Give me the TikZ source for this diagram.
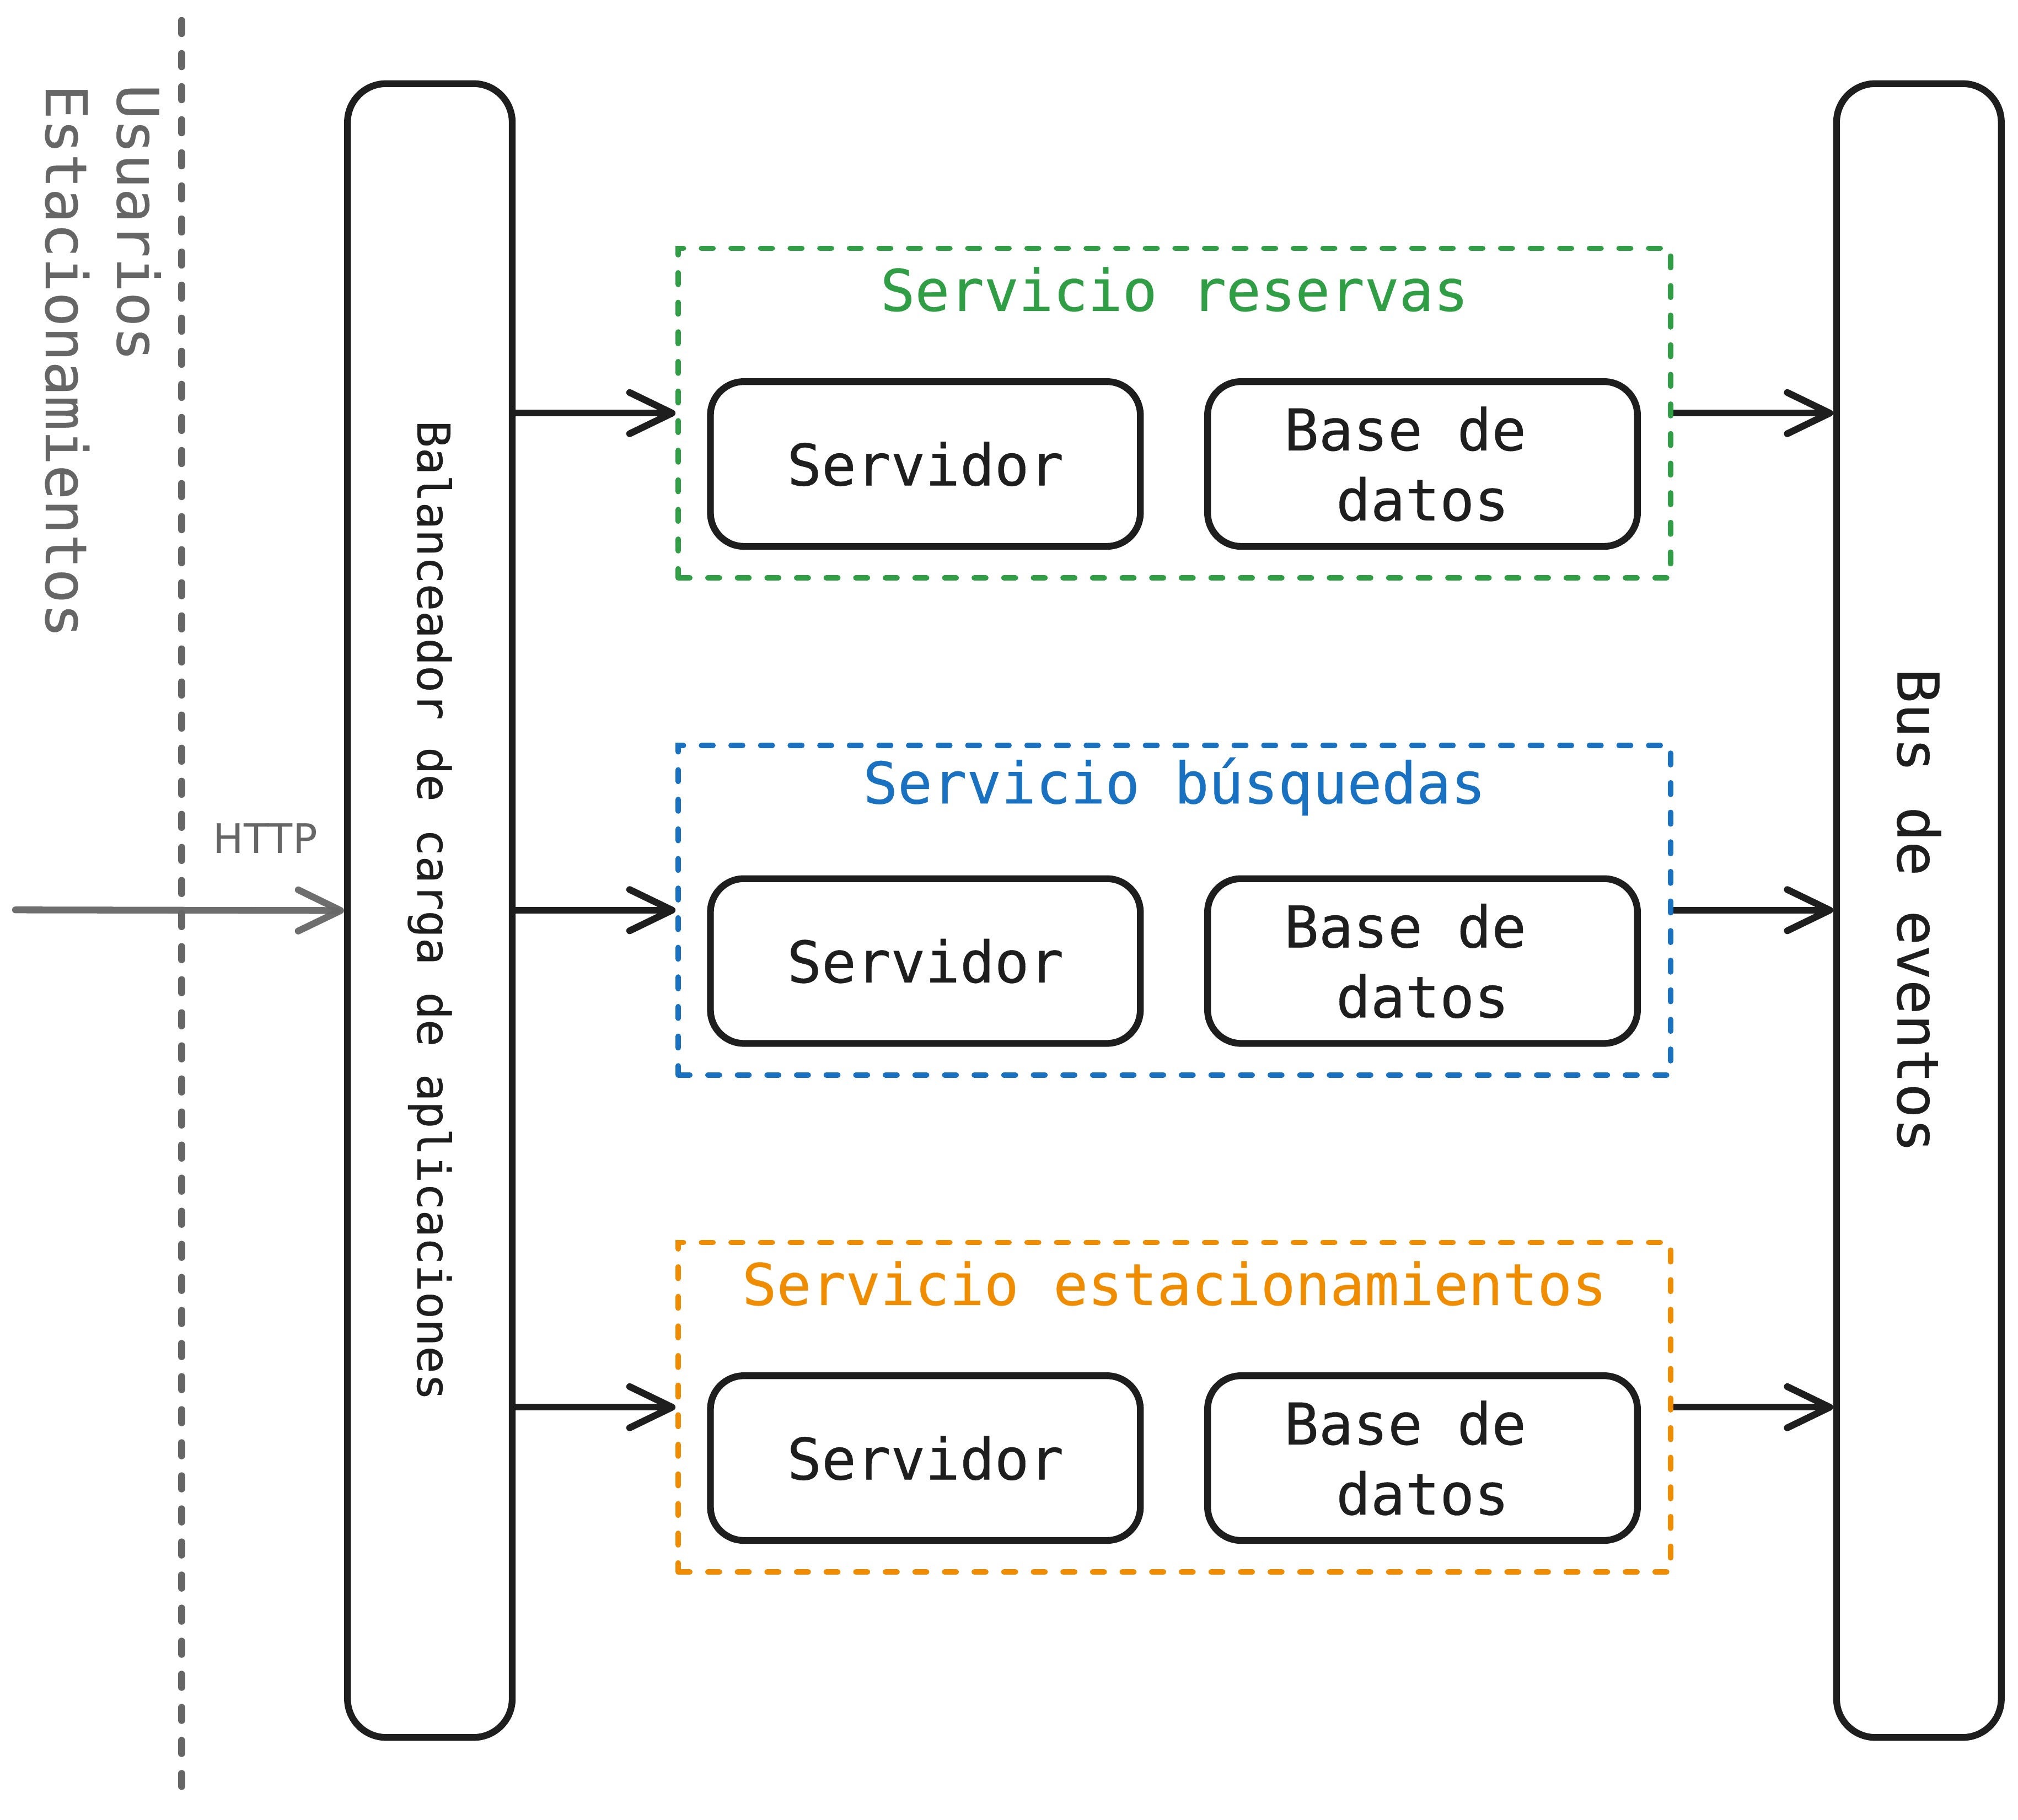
\documentclass[tikz,border=0pt]{standalone}
\usepackage{fontspec}
\setmainfont{DejaVu Sans Mono}[FakeBold=0.4]
\newfontfamily\httpfont{DejaVu Sans}
\usepackage{tikz}
\usetikzlibrary{arrows.meta,positioning,calc}
\definecolor{InkDark}{HTML}{1E1E1E}
\definecolor{InkGray}{HTML}{666666}
\definecolor{SvcGreen}{HTML}{2F9E44}
\definecolor{SvcBlue}{HTML}{1971C2}
\definecolor{SvcOrange}{HTML}{F08C00}
\tikzset{
  % Tall boxes (balancer, bus)
  TB/.style={rectangle,rounded corners=0.3cm,draw=InkDark,line width=1.5pt,
             minimum width=1.28cm,minimum height=12.85cm,inner sep=0pt},
  % Inner box
  IB/.style={rectangle,rounded corners=0.26cm,draw=InkDark,line width=1.5pt,
             minimum width=3.34cm,minimum height=1.28cm,inner sep=0pt,
             text=InkDark,align=center,font=\fontsize{12.7}{15.5}\selectfont},
  % Service group frame
  SG/.style={rectangle,line width=1.2pt,dash pattern=on 0.09cm off 0.14cm,
             line cap=round,minimum width=7.71cm,minimum height=2.56cm,inner sep=0pt},
  % Group title
  ST/.style={font=\fontsize{12.7}{15}\selectfont,inner sep=0pt},
  % Vertical text
  VT/.style={rotate=-90,inner sep=0pt,text=InkDark},
  % Arrow
  arr/.style={-{Straight Barb[length=3.3mm,width=3.2mm,round]},line width=1.5pt,draw=InkDark},
  % Gray arrow and divider
  garr/.style={-{Straight Barb[length=3.3mm,width=3.2mm,round]},line width=1.5pt,
               draw=InkGray,line cap=round,draw opacity=0.95},
  sep/.style={line width=1.6pt,draw=InkGray,line cap=round,dash pattern=on 0.10cm off 0.157cm}
}
\begin{document}
\begin{tikzpicture}
  \useasboundingbox (0,0) rectangle (15.68,-14.14);

  % left side: users
  \coordinate (septop) at (1.41,-0.16);
  \coordinate (sepbot) at (1.41,-13.88);
  \draw[sep] (septop) -- (sepbot);
  \node[VT,text=InkGray,anchor=west,align=left,font=\fontsize{12.7}{15.8}\selectfont]
       (users) at (0.80,-0.65) {Usuarios\\Estacionamientos};

  % balancer and bus
  \node[TB] (lb)  at (3.34,-7.075) {};
  \node[TB] (bus) at (14.91,-7.075) {};
  \node[VT,font=\fontsize{10}{12}\selectfont] (lbtxt) at (lb.center) {Balanceador de carga de aplicaciones};
  \node[VT,font=\fontsize{12.7}{15}\selectfont] (bustxt) at (bus.center) {Bus de eventos};

  % http entry
  \coordinate (src) at (0.12,-7.07);
  \draw[garr] (src) -- (lb.west) node[pos=0.76,above=0.30cm,text=InkGray,font=\httpfont\fontsize{9}{11}\selectfont] (http) {HTTP};

  % service groups
  \node[SG,draw=SvcGreen]  (grpA) at (9.125,-3.21) {};
  \node[SG,draw=SvcBlue,   below=1.26cm of grpA] (grpB) {};
  \node[SG,draw=SvcOrange, below=1.26cm of grpB] (grpC) {};

  \node[ST,text=SvcGreen]  (ttlA) at ([yshift=-0.34cm]grpA.north) {Servicio reservas};
  \node[ST,text=SvcBlue]   (ttlB) at ([yshift=-0.34cm]grpB.north) {Servicio búsquedas};
  \node[ST,text=SvcOrange] (ttlC) at ([yshift=-0.34cm]grpC.north) {Servicio estacionamientos};

  \node[IB,below right=1.03cm and 0.245cm of grpA.north west] (srvA) {Servidor};
  \node[IB,right=0.47cm of srvA] (dbA) {Base de\hphantom{x}\\datos};
  \node[IB,below right=1.03cm and 0.245cm of grpB.north west] (srvB) {Servidor};
  \node[IB,right=0.47cm of srvB] (dbB) {Base de\hphantom{x}\\datos};
  \node[IB,below right=1.03cm and 0.245cm of grpC.north west] (srvC) {Servidor};
  \node[IB,right=0.47cm of srvC] (dbC) {Base de\hphantom{x}\\datos};

  % connectors
  \draw[arr] (lb.east |- grpA.west) -- (grpA.west);
  \draw[arr] (lb.east |- grpB.west) -- (grpB.west);
  \draw[arr] (lb.east |- grpC.west) -- (grpC.west);
  \draw[arr] (grpA.east) -- (bus.west |- grpA.east);
  \draw[arr] (grpB.east) -- (bus.west |- grpB.east);
  \draw[arr] (grpC.east) -- (bus.west |- grpC.east);
\end{tikzpicture}
\end{document}
